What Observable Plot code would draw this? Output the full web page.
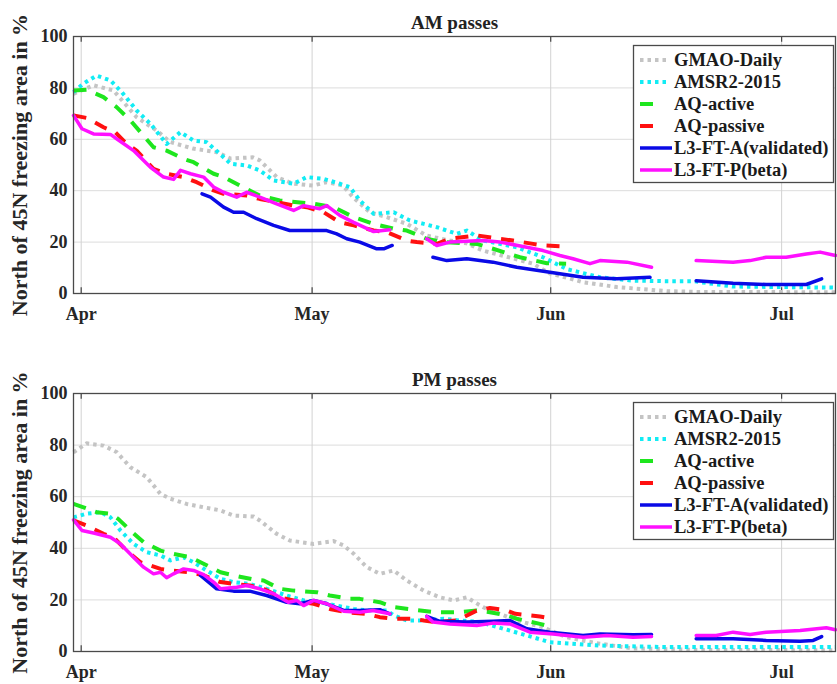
<!DOCTYPE html>
<html><head><meta charset="utf-8">
<script src="https://cdn.jsdelivr.net/npm/d3@7"></script>
<script src="https://cdn.jsdelivr.net/npm/@observablehq/plot@0.6"></script>
<style>body{margin:0;background:#fff} svg{display:block}</style>
</head><body><div id="chart"></div>
<script>
// Days are counted from 1 April (0 = Apr 1); null marks a gap in the record.
const monthLabels = ["Apr", "May", "Jun", "Jul"];
const monthDays = [0, 30, 61, 91];
const yTicks = [0, 20, 40, 60, 80, 100];
const seriesNames = ["GMAO-Daily", "AMSR2-2015", "AQ-active", "AQ-passive", "L3-FT-A(validated)", "L3-FT-P(beta)"];

// ---- AM passes ----
const amGmaoDay = [-1,1.6,4.2,7.2,9.8,11.6,14.5,17.6,19.4,22.3,23.2,25.4,27.5,30.1,31.9,34,35.3,37.5,39.7,42.3,44.9,47.9,50.1,52.2,54.4,58.7,60.9,63,65.2,69.6,76.1,80.4,98];
const amGmaoVal = [77.7,81,79,68.6,63.4,58.9,56.4,55,52.5,53,51.8,45.3,42.8,42,43.3,42,37.5,31.6,29.7,27.1,22.5,20.6,19.5,16.7,15,11.6,7.8,6.2,4.4,2.5,0.9,0.6,0.5];
const amAmsrDay = [-1,0.3,2,3.8,5.3,7.2,9,11.1,12.9,14.6,16.3,18,19.4,21.5,23.2,25,27.6,29.3,31.5,33.6,34.9,36.2,38,40.6,42.7,44.5,46.2,48.8,50.1,52.2,56.6,60,63.1,67.4,71.7,76.1,79.5,84.7,98];
const amAmsrVal = [78.3,81.7,84.8,82.9,78.3,71.2,66,58.2,62.8,59.5,58.9,54.4,50.5,49.8,47.9,44,42.7,45.3,44.6,42.7,41.4,36.2,31,31.6,28.4,27.1,25.8,23.2,24.5,20.6,18,14.1,9.5,6.3,5,4.8,4.8,2.7,2.3];
const amAqActDay = [-1,0.7,2.9,4.6,6.4,7.7,9.4,11.1,13.3,14.6,17.2,18.5,20.6,23.2,25.8,30.2,32.8,35.4,38,40.6,42.3,44.9,47,51.4,53.5,57,60.5,63];
const amAqActVal = [79,79.3,76.4,72.5,67.3,62.8,56.9,55.6,52.4,51.1,46.6,45.3,42,38.1,36.2,34.9,33.6,29.7,27.1,25.2,24.5,21.3,20,19.3,17.4,14.1,11.8,11.6];
const amAqPasDay = [-1,0.7,2.9,4.4,5.9,7.2,9.4,11.1,13.3,15,17.2,18.5,21.5,23.2,25.4,27.6,29.3,31.5,33.6,35.4,38,39.7,42.3,43.6,46.2,47.9,51.4,54.4,56.1,58.7,60,63.1];
const amAqPasVal = [69.3,68.3,64.7,62.8,58.2,55.6,48.5,46.6,45.3,43.3,40.1,38.8,38.1,36.8,35.5,34.2,33.6,31.6,27.7,26.5,24.5,23.9,20.6,20,19.3,21.3,22.6,21.3,20.6,19.3,18.7,18.3];
const amL3aDay = [15.7,16.8,18.5,19.8,21.1,22.8,25,27.1,29.7,31.9,33.2,34.5,36.2,38.4,39.3,40.4,43,45.7,47.5,50.1,53.5,56.6,60.9,65.2,69.6,73.9,77,79.9,84.7,89,94.2,96.2];
const amL3aVal = [38.8,37.5,33.6,31.6,31.6,29.1,26.5,24.5,24.5,24.5,23.2,21.3,20,17.4,17.4,18.7,null,14.1,12.8,13.5,12.2,10.2,8.3,6.3,5.7,6.3,null,5,4,3.5,3.5,5.7];
const amL3pDay = [-1,0.1,1.6,3.8,4.6,6.8,9,10.7,12,12.9,14.2,15.9,17.2,18.5,20.2,21.5,23.2,25.4,27.6,28.9,31,31.9,33.6,35.4,38,40.1,42.5,44.9,46.2,47.9,52.2,54.4,57.9,60,62.2,63.9,66.1,67.4,70.9,74.1,77,79.9,84.7,86.9,89,91.6,94.2,96,98];
const amL3pVal = [69.3,64.1,62.1,61.9,60.2,55.6,49.1,45.3,44.4,47.9,46.6,45.3,41.4,39.4,37.5,39.4,37.5,34.9,32.3,34.2,33,34.2,30.4,27.7,24.1,24.8,null,21.3,18.7,20,20.6,20,18,16.7,14.8,13.5,11.6,12.8,12.2,10.2,null,12.8,12.2,12.8,14.1,14.1,15.4,16.1,14.8];

// ---- PM passes ----
const pmGmaoDay = [-1,0.7,2.9,4.6,6.4,8.5,10.3,11.6,13.7,15.9,18.1,19.8,22.4,23.2,25.4,27.1,30.2,32.8,34.1,35.4,37.1,38.8,40.6,42.3,44.5,46.6,48.4,50.1,52.2,54.4,56.6,60,63.1,67.4,71.7,80.4,98];
const pmGmaoVal = [77.2,80.7,79.8,77.3,71.4,67.6,61.1,59.2,57.2,55.9,54.7,52.7,52.3,50.8,45.6,43,41.7,42.8,41.1,37.9,32.7,30.1,31.4,27.5,23.6,21,19.8,21,17.2,14.6,12,9.4,5.5,3,1.2,0.6,0.5];
const pmAmsrDay = [-1,0.7,2.5,3.8,5.1,6.8,8.5,10.3,11.6,13.3,14.6,16.3,18.1,19.8,21.9,24.1,26.7,28.9,31,33.2,35.4,37.4,39.7,40.6,42.3,44.5,47.1,49.2,51.8,53.5,55.7,58.7,60.9,67.4,76.1,98];
const pmAmsrVal = [52,53.4,54,52,46.9,41.7,38.5,37.2,35.3,36.5,34.6,31.4,28.2,26.9,26.2,24.3,21.7,19.8,19.1,17.8,16.5,15.9,15.9,14,12,12,12.7,12,11.4,10,8.1,5.5,3.6,2.3,1.7,1.7];
const pmAqActDay = [-1,0.3,2,3.8,4.8,6.4,8.1,10.3,11.6,14.2,15.9,18.1,19.8,22.4,23.7,25.8,27.6,30.6,32.3,34.9,36.2,38.8,40.6,43.2,46.2,49.2,51.4,53.1,55.3,56.6,59.6,61.3];
const pmAqActVal = [57.2,55.9,54,53.4,51.4,46.9,42.4,39.1,38.1,36.5,34,30.7,29.5,27.9,27.5,24.3,23.6,23,21.7,20.4,20.4,19.1,17.2,16.2,15.2,15.2,15.9,15.2,14,12.7,10.7,9.4];
const pmAqPasDay = [-1,0.7,2.9,4.2,5.9,7.7,10.3,11.6,14.2,15.9,18.1,19.8,21.9,23.7,25.8,27.6,30.2,32.3,34.5,37.1,38.8,40.6,43.2,44.5,46.2,48.8,51.4,53.1,55.3,56.4,59.6,61.3];
const pmAqPasVal = [50.8,48.8,45.6,44.3,39.1,34.6,32,31.4,30.7,29.5,26.9,26.2,25.6,24.3,21,19.8,18.5,16.5,15.2,14.6,13.3,12.7,12.7,12,11.4,12,15.9,16.9,15.9,14.6,13.6,12.7];
const pmL3aDay = [15.5,17.6,19.8,21.9,24.1,26.7,28.4,30.2,31.9,34.1,36.2,38.8,40.1,42.5,44.9,46.6,50.1,53.5,55.7,57.9,60.9,65.2,67.4,71.7,74.1,77,79.9,84.7,89,93.4,95.1,96.2];
const pmL3aVal = [29.5,24.3,23.4,23.4,21.7,19.1,18.5,19.8,18.5,15.9,15.9,16.2,14.6,null,13.6,11.7,11.4,11.7,12,8.8,7.5,6.2,6.8,6.5,6.6,null,4.9,4.9,4.3,4,4.3,5.8];
const pmL3pDay = [-1,0.1,1.6,3.8,5.1,6.8,8.1,9.4,10.3,11.1,12,13.3,14.6,15.9,17.2,18.1,20.2,21.5,23.2,25,26.9,28,28.9,30.2,31.9,34.1,36.2,37.9,40.1,42.5,44.9,45.7,47.9,51.4,53.5,55.7,58.3,61.3,65.2,68.3,71.7,74.1,77,79.9,82.5,84.7,86.9,89,93.4,96.8,98];
const pmL3pVal = [51,46.9,45.9,44.3,41.7,36.5,32.7,30.1,30.7,28.6,30.1,32,31.4,29.8,26.9,24.3,24.9,25.6,24.3,22.4,19.1,19.8,17.8,19.8,18.5,15.6,15.2,15.9,14.6,null,13.6,11.4,10.7,10.1,11,10.7,7.5,6.8,5.5,6.2,5.5,5.8,null,6.2,6.2,7.5,6.6,7.5,8.1,9.2,8.4];

// ---- styles ----
const lineStyles = [
  {stroke: "#c4c4c4", strokeWidth: 4, strokeDasharray: "3.5 4", legendLen: 30},
  {stroke: "#12ecf4", strokeWidth: 4, strokeDasharray: "3.5 4", legendLen: 30},
  {stroke: "#1ee61e", strokeWidth: 4, strokeDasharray: "13 10", legendLen: 17},
  {stroke: "#ff1010", strokeWidth: 4, strokeDasharray: "13 10", legendLen: 17},
  {stroke: "#0a0ae6", strokeWidth: 3.5, strokeDasharray: null, legendLen: 32},
  {stroke: "#ff10ff", strokeWidth: 3.5, strokeDasharray: null, legendLen: 32}
];
const FONT = "Liberation Serif, Times New Roman, serif";
const DAY0 = Date.UTC(2015, 3, 1);
const toDate = d => new Date(DAY0 + d * 864e5);
const rows = (days, vals) => days.map((d, i) => ({date: toDate(d), value: vals[i]}));
const monthTicks = monthDays.map(toDate);

function panel(title, sets, height, marginBottom) {
  const lines = sets.map(([days, vals], k) => {
    const s = lineStyles[k];
    const o = {x: "date", y: "value", stroke: s.stroke, strokeWidth: s.strokeWidth, curve: "linear", strokeLinejoin: "round"};
    if (s.strokeDasharray) { o.strokeDasharray = s.strokeDasharray; o.strokeLinecap = "butt"; }
    return Plot.line(rows(days, vals), o);
  });
  const svg = Plot.plot({
    width: 837, height, marginLeft: 73, marginRight: 2, marginTop: 36, marginBottom,
    style: {fontFamily: FONT, fontWeight: "bold", color: "#262626", background: "#fff", overflow: "visible"},
    x: {type: "utc", domain: [toDate(-1), toDate(98)]},
    y: {domain: [0, 100]},
    marks: [
      Plot.gridY(yTicks, {stroke: "#dcdcdc", strokeOpacity: 1}),
      Plot.gridX(monthTicks, {stroke: "#d2d2d2", strokeOpacity: 1}),
      Plot.axisX(monthTicks, {tickFormat: (d, i) => monthLabels[i], tickSize: 0, tickPadding: 14, fontSize: 18, label: null}),
      Plot.axisY(yTicks, {tickSize: 0, tickPadding: 6, fontSize: 18, label: null}),
      Plot.ruleX(monthTicks, {y1: 0, y2: 2.2, stroke: "#444", strokeWidth: 1.2}),
      Plot.ruleX(monthTicks, {y1: 97.8, y2: 100, stroke: "#444", strokeWidth: 1.2}),
      ...lines,
      Plot.frame({stroke: "#4a4a4a", strokeWidth: 1.3}),
      Plot.text([title], {frameAnchor: "top", dy: -21, fontSize: 19, fontWeight: "bold", fill: "#222"}),
      Plot.text(["North of 45N freezing area in %"], {frameAnchor: "left", textAnchor: "middle", rotate: -90, dx: -54, fontSize: 22, fontWeight: "bold", fill: "#262626"})
    ]
  });
  // legend box (upper right)
  const g = d3.select(svg).append("g").attr("font-family", FONT).attr("font-weight", "bold").attr("font-size", 18.5).attr("text-anchor", "start");
  g.append("rect").attr("x", 633.5).attr("y", 45.5).attr("width", 200).attr("height", 137)
    .attr("fill", "#fff").attr("stroke", "#4a4a4a").attr("stroke-width", 1.3);
  seriesNames.forEach((name, k) => {
    const s = lineStyles[k];
    const y = 60 + k * 22;
    const ln = g.append("line").attr("x1", 640).attr("x2", 640 + s.legendLen).attr("y1", y).attr("y2", y)
      .attr("stroke", s.stroke).attr("stroke-width", s.strokeWidth);
    if (s.strokeDasharray) ln.attr("stroke-dasharray", s.strokeDasharray);
    g.append("text").attr("x", 674).attr("y", y).attr("dy", "0.35em").attr("text-anchor", "start").attr("fill", "#1a1a1a").text(name);
  });
  return svg;
}

const root = document.getElementById("chart");
root.appendChild(panel("AM passes", [
  [amGmaoDay, amGmaoVal], [amAmsrDay, amAmsrVal], [amAqActDay, amAqActVal],
  [amAqPasDay, amAqPasVal], [amL3aDay, amL3aVal], [amL3pDay, amL3pVal]
], 357, 64));
root.appendChild(panel("PM passes", [
  [pmGmaoDay, pmGmaoVal], [pmAmsrDay, pmAmsrVal], [pmAqActDay, pmAqActVal],
  [pmAqPasDay, pmAqPasVal], [pmL3aDay, pmL3aVal], [pmL3pDay, pmL3pVal]
], 327, 33));
</script>
</body></html>
